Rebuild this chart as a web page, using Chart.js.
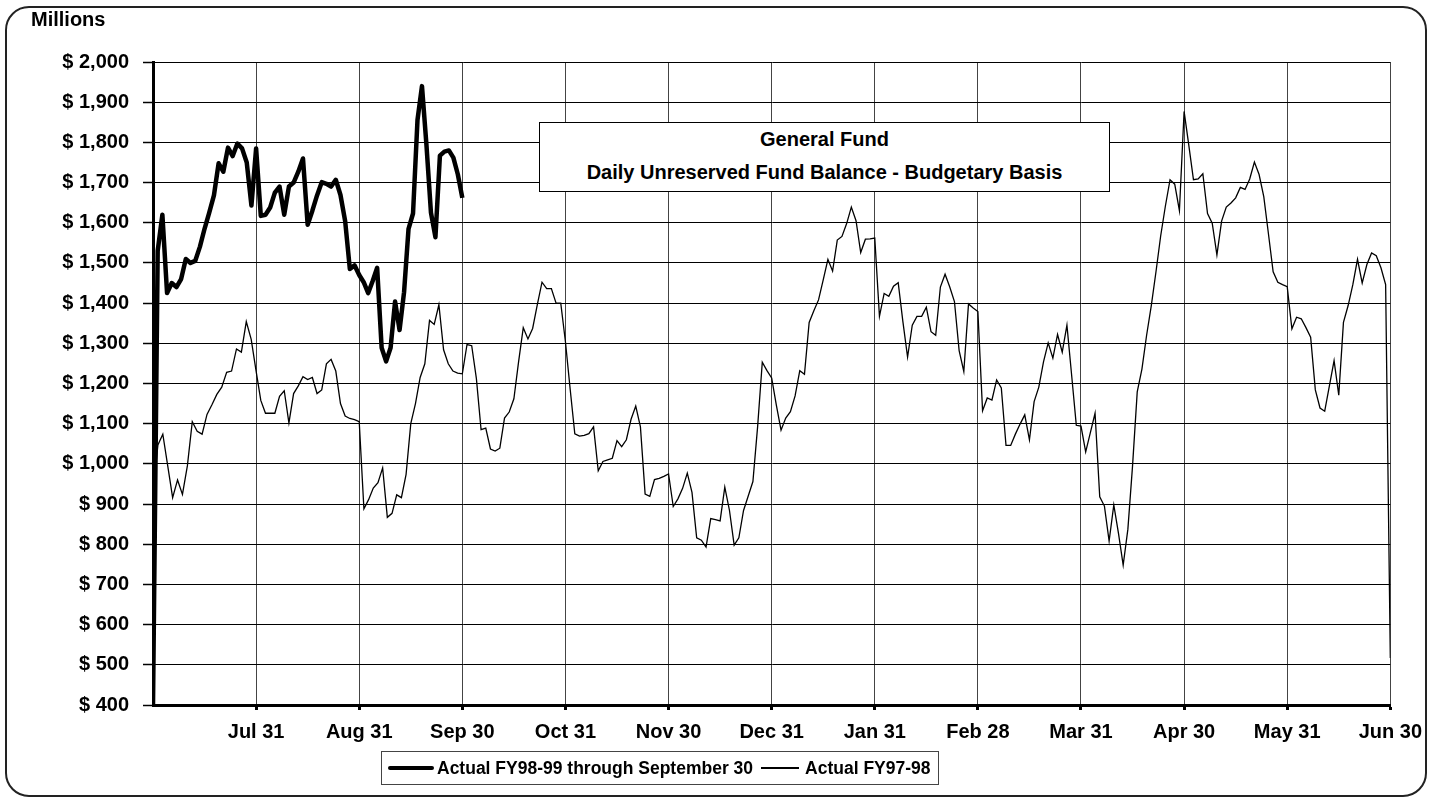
<!DOCTYPE html>
<html>
<head>
<meta charset="utf-8">
<title>General Fund - Daily Unreserved Fund Balance</title>
<script src="https://cdn.jsdelivr.net/npm/chart.js@4.4.1/dist/chart.umd.min.js"></script>
<style>
  html, body { margin: 0; padding: 0; background: #fff; }
  body { font-family: "Liberation Sans", Arial, sans-serif; font-weight: bold; color: #000; }
  #wrap { position: relative; width: 1432px; height: 802px; overflow: hidden; }
  #frame {
    position: absolute; left: 5px; top: 6px; width: 1422px; height: 791px;
    border: 2px solid #222; border-radius: 24px; box-sizing: border-box; pointer-events: none;
  }
  #units { position: absolute; left: 31px; top: 8px; font-size: 20px; }
  #titleBox {
    position: absolute; left: 539px; top: 122px; width: 571px; height: 70px;
    border: 1.5px solid #000; background: #fff; box-sizing: border-box;
    text-align: center; font-size: 20px; line-height: 33px; padding-top: 0;
  }
  #legendBox {
    position: absolute; left: 381px; top: 751px; width: 558px; height: 34px;
    border: 1.5px solid #444; box-sizing: border-box; font-size: 17.5px;
    display: flex; align-items: center; padding-left: 6px; white-space: nowrap;
  }
  .swatch { display: inline-block; background: #000; }
  .thick { width: 46px; height: 4px; border-radius: 2px; margin-right: 3px; }
  .thin { width: 38px; height: 1.3px; margin-left: 8px; margin-right: 6px; }
</style>
</head>
<body>
<div id="wrap">
  <canvas id="myChart" width="1432" height="802"></canvas>
  <div id="units">Millions</div>
  <div id="titleBox">General Fund<br>Daily Unreserved Fund Balance - Budgetary Basis</div>
  <div id="legendBox">
    <span class="swatch thick"></span>Actual FY98-99 through September 30
    <span class="swatch thin"></span>Actual FY97-98
  </div>
  <div id="frame"></div>
</div>
<script>
const monthLabels = ["Jul 31", "Aug 31", "Sep 30", "Oct 31", "Nov 30", "Dec 31",
  "Jan 31", "Feb 28", "Mar 31", "Apr 30", "May 31", "Jun 30"];

// Actual FY98-99 (thick line), millions, daily points per month
const fy9899Start = 400;
const fy9899Jul = [1530, 1620, 1425, 1450, 1440, 1460, 1510, 1500, 1505, 1540, 1585,
  1625, 1668, 1748, 1727, 1787, 1766, 1797, 1785, 1750, 1643, 1785];
const fy9899Aug = [1617, 1620, 1638, 1675, 1690, 1620, 1690, 1700, 1727, 1760, 1595,
  1630, 1668, 1701, 1697, 1690, 1707, 1669, 1604, 1485, 1494, 1470];
const fy9899Sep = [1452, 1425, 1455, 1488, 1289, 1255, 1289, 1404, 1333, 1427, 1585,
  1623, 1856, 1940, 1793, 1625, 1564, 1767, 1777, 1780, 1762, 1720, 1662];

// Actual FY97-98 (thin line)
const fy9798Start = 930;
const fy9798Jul = [1047, 1074, 995, 916, 960, 924, 995, 1105, 1081, 1074, 1123, 1147,
  1173, 1191, 1228, 1231, 1286, 1278, 1354, 1310, 1231];
const fy9798Aug = [1158, 1126, 1126, 1126, 1168, 1182, 1102, 1175, 1194, 1217, 1210,
  1215, 1175, 1184, 1249, 1260, 1231, 1150, 1119, 1113, 1110, 1105];
const fy9798Sep = [888, 911, 940, 953, 990, 867, 877, 923, 916, 974, 1100, 1150, 1215,
  1249, 1357, 1347, 1396, 1284, 1249, 1231, 1226, 1224];
const fy9798Oct = [1297, 1294, 1212, 1085, 1089, 1037, 1032, 1039, 1114, 1129, 1162,
  1254, 1339, 1311, 1337, 1396, 1452, 1436, 1436, 1400, 1400, 1304];
const fy9798Nov = [1187, 1075, 1069, 1071, 1075, 1092, 983, 1006, 1010, 1014, 1058,
  1043, 1060, 1111, 1144, 1092, 925, 919, 961, 964, 969, 975];
const fy9798Dec = [894, 913, 939, 977, 929, 816, 810, 793, 864, 861, 858, 942, 884,
  798, 816, 884, 920, 956, 1092, 1253, 1232, 1214];
const fy9798Jan = [1146, 1084, 1114, 1130, 1169, 1232, 1223, 1352, 1381, 1408, 1458,
  1509, 1480, 1557, 1566, 1598, 1639, 1605, 1526, 1559, 1560, 1562];
const fy9798Feb = [1367, 1424, 1417, 1442, 1451, 1354, 1266, 1345, 1367, 1367, 1390,
  1329, 1320, 1440, 1472, 1440, 1404, 1282, 1230, 1398, 1388, 1379];
const fy9798Mar = [1132, 1164, 1159, 1209, 1189, 1046, 1046, 1074, 1099, 1122, 1060,
  1155, 1191, 1254, 1301, 1263, 1322, 1278, 1345, 1221, 1096, 1094];
const fy9798Apr = [1030, 1078, 1126, 918, 895, 808, 898, 827, 748, 837, 995, 1179,
  1236, 1320, 1394, 1478, 1567, 1641, 1707, 1696, 1630, 1877];
const fy9798May = [1793, 1707, 1709, 1722, 1623, 1599, 1520, 1604, 1639, 1649, 1662,
  1688, 1683, 1709, 1751, 1720, 1665, 1572, 1478, 1452, 1446, 1441];
const fy9798Jun = [1336, 1365, 1361, 1339, 1315, 1184, 1139, 1131, 1194, 1257, 1171,
  1352, 1394, 1446, 1509, 1450, 1496, 1525, 1518, 1488, 1446, 517];

const FONT = '"Liberation Sans", Arial, sans-serif';

// each month's readings are spread evenly over that month on the x axis
function toPoints(start, months) {
  const pts = [{ x: 0, y: start }];
  months.forEach((arr, m) => {
    arr.forEach((v, k) => {
      pts.push({ x: m + (k + 1) / arr.length, y: v });
    });
  });
  return pts;
}

const thick = toPoints(fy9899Start, [fy9899Jul, fy9899Aug, fy9899Sep]);
const thin = toPoints(fy9798Start, [fy9798Jul, fy9798Aug, fy9798Sep, fy9798Oct,
  fy9798Nov, fy9798Dec, fy9798Jan, fy9798Feb, fy9798Mar, fy9798Apr, fy9798May, fy9798Jun]);

Chart.defaults.font.family = FONT;
Chart.defaults.font.size = 20;
Chart.defaults.font.weight = "bold";
Chart.defaults.color = "#000";

new Chart(document.getElementById("myChart"), {
  type: "line",
  data: {
    datasets: [
      {
        label: "Actual FY98-99 through September 30",
        data: thick,
        borderColor: "#000",
        borderWidth: 4.5,
        borderJoinStyle: "round",
        pointRadius: 0,
        tension: 0,
      },
      {
        label: "Actual FY97-98",
        data: thin,
        borderColor: "#000",
        borderWidth: 1.3,
        pointRadius: 0,
        tension: 0,
      },
    ],
  },
  options: {
    responsive: false,
    animation: false,
    devicePixelRatio: 1,
    layout: { padding: { left: 0, top: 62, right: 35, bottom: 52 } },
    plugins: { legend: { display: false }, tooltip: { enabled: false } },
    scales: {
      x: {
        type: "linear",
        min: 0,
        max: 12,
        afterBuildTicks: (scale) => {
          scale.ticks = monthLabels.map((_, i) => ({ value: i + 1 }));
        },
        afterFit: (scale) => { scale.height = 45; },
        ticks: {
          autoSkip: false,
          maxRotation: 0,
          padding: 10,
          callback: (value) => monthLabels[value - 1],
        },
        grid: {
          color: "#444",
          lineWidth: 1,
          tickLength: 5,
          tickWidth: 3,
          tickColor: "#000",
        },
        border: { display: true, color: "#000", width: 3 },
      },
      y: {
        min: 400,
        max: 2000,
        afterFit: (scale) => { scale.width = 153; },
        ticks: {
          stepSize: 100,
          padding: 14,
          callback: (value) => "$ " + value.toLocaleString("en-US"),
        },
        grid: {
          color: "#000",
          lineWidth: 1,
          tickLength: 10,
          tickWidth: 1.5,
          tickColor: "#000",
        },
        border: { display: true, color: "#000", width: 3 },
      },
    },
  },
});
</script>
</body>
</html>
